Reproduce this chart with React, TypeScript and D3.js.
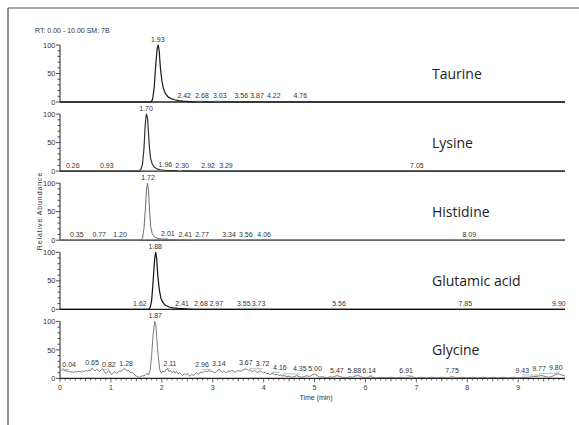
import React from "react";
import * as d3 from "d3";

// compound names, one per stacked panel
const compounds = ["Taurine", "Lysine", "Histidine", "Glutamic acid", "Glycine"];
const timeTicks = [0, 1, 2, 3, 4, 5, 6, 7, 8, 9];
const abundanceTicks = [0, 50, 100];

// chromatogram traces: [time (min), relative abundance]
const taurineTrace: [number, number][] = [
  [0, 0], [1.79, 0], [1.82, 5], [1.85, 25], [1.88, 65], [1.91, 95], [1.93, 100], [1.95, 88],
  [1.97, 62], [2.0, 38], [2.03, 24], [2.07, 15], [2.12, 9], [2.18, 6], [2.25, 4], [2.33, 2.5],
  [2.42, 1.5], [2.55, 0.8], [2.7, 0], [9.92, 0],
];
const lysineTrace: [number, number][] = [
  [0, 0], [1.55, 0], [1.59, 3], [1.62, 12], [1.65, 40], [1.67, 75], [1.69, 97], [1.7, 100],
  [1.72, 92], [1.74, 65], [1.76, 38], [1.78, 22], [1.81, 13], [1.85, 7], [1.9, 4], [1.96, 2.5],
  [2.05, 1.5], [2.2, 1], [2.4, 0.5], [2.6, 0], [9.92, 0],
];
const histidineTrace: [number, number][] = [
  [0, 0], [1.58, 0], [1.62, 4], [1.65, 20], [1.68, 60], [1.7, 90], [1.72, 100], [1.74, 85],
  [1.76, 50], [1.78, 25], [1.81, 12], [1.85, 6], [1.9, 3.5], [2.0, 2], [2.15, 1], [2.4, 0.5],
  [2.6, 0], [9.92, 0],
];
const glutamicTrace: [number, number][] = [
  [0, 0], [1.74, 0], [1.77, 3], [1.8, 15], [1.83, 50], [1.86, 90], [1.88, 100], [1.9, 88],
  [1.92, 60], [1.95, 35], [1.98, 20], [2.02, 12], [2.07, 7], [2.14, 4], [2.22, 2.5], [2.32, 1.5],
  [2.45, 0.8], [2.6, 0], [9.92, 0],
];
const glycineTrace: [number, number][] = [
  [0.0, 16], [0.03, 14], [0.06, 17], [0.09, 13], [0.12, 14], [0.15, 12], [0.18, 13], [0.21, 11],
  [0.24, 12], [0.27, 10], [0.3, 12], [0.33, 11], [0.36, 13], [0.39, 12], [0.42, 11], [0.45, 13],
  [0.48, 12], [0.51, 14], [0.54, 13], [0.57, 15], [0.6, 14], [0.63, 18], [0.66, 15], [0.69, 13],
  [0.72, 16], [0.75, 14], [0.78, 12], [0.81, 15], [0.84, 17], [0.87, 12], [0.9, 8], [0.93, 11],
  [0.96, 14], [0.99, 9], [1.02, 7], [1.05, 10], [1.08, 12], [1.11, 9], [1.14, 11], [1.17, 13],
  [1.2, 12], [1.23, 15], [1.26, 17], [1.29, 16], [1.32, 13], [1.35, 14], [1.38, 10], [1.41, 11],
  [1.44, 9], [1.47, 6], [1.5, 4], [1.53, 3], [1.56, 2], [1.59, 3], [1.62, 5], [1.65, 4],
  [1.68, 7], [1.71, 9], [1.74, 6], [1.77, 14], [1.8, 40], [1.83, 78], [1.86, 100], [1.88, 96],
  [1.9, 70], [1.93, 38], [1.96, 15], [1.99, 9], [2.02, 13], [2.05, 11], [2.08, 15], [2.11, 17],
  [2.14, 12], [2.17, 14], [2.2, 10], [2.23, 13], [2.26, 9], [2.29, 12], [2.32, 8], [2.35, 10],
  [2.38, 7], [2.41, 5], [2.44, 8], [2.47, 6], [2.5, 9], [2.53, 5], [2.56, 4], [2.59, 7],
  [2.62, 5], [2.65, 8], [2.68, 10], [2.71, 7], [2.74, 9], [2.77, 11], [2.8, 10], [2.83, 12],
  [2.86, 13], [2.89, 11], [2.92, 14], [2.95, 12], [2.98, 13], [3.01, 11], [3.04, 10], [3.07, 12],
  [3.1, 14], [3.13, 16], [3.16, 12], [3.19, 11], [3.22, 13], [3.25, 10], [3.28, 11], [3.31, 13],
  [3.34, 12], [3.37, 14], [3.4, 13], [3.43, 11], [3.46, 12], [3.49, 14], [3.52, 13], [3.55, 12],
  [3.58, 14], [3.61, 15], [3.64, 17], [3.67, 16], [3.7, 14], [3.73, 15], [3.76, 13], [3.79, 12],
  [3.82, 14], [3.85, 12], [3.88, 10], [3.91, 12], [3.94, 13], [3.97, 11], [4.0, 9], [4.03, 11],
  [4.06, 8], [4.09, 9], [4.12, 7], [4.15, 8], [4.18, 9], [4.21, 7], [4.24, 6], [4.27, 8],
  [4.3, 5], [4.33, 6], [4.36, 4], [4.4, 5], [4.45, 3], [4.5, 4], [4.55, 2], [4.6, 3],
  [4.65, 5], [4.7, 3], [4.75, 2], [4.8, 3], [4.85, 5], [4.9, 3], [4.95, 6], [5.0, 8],
  [5.05, 5], [5.1, 2], [5.15, 3], [5.2, 2], [5.25, 1], [5.3, 3], [5.35, 2], [5.4, 4],
  [5.45, 5], [5.5, 3], [5.55, 2], [5.6, 1], [5.65, 2], [5.7, 3], [5.75, 2], [5.8, 4],
  [5.85, 6], [5.9, 3], [5.95, 2], [6.0, 1], [6.1, 3], [6.15, 2], [6.2, 1], [6.3, 2],
  [6.4, 1], [6.5, 2], [6.6, 1], [6.7, 2], [6.8, 1], [6.9, 3], [7.0, 1], [7.1, 2],
  [7.2, 1], [7.3, 2], [7.4, 1], [7.5, 2], [7.6, 1], [7.7, 3], [7.8, 1], [7.9, 2],
  [8.0, 1], [8.1, 2], [8.2, 1], [8.3, 2], [8.4, 1], [8.5, 2], [8.6, 1], [8.7, 2],
  [8.8, 1], [8.9, 2], [9.0, 1], [9.1, 2], [9.2, 2], [9.3, 3], [9.4, 4], [9.45, 5],
  [9.5, 4], [9.55, 3], [9.6, 2], [9.65, 3], [9.7, 5], [9.75, 7], [9.8, 8], [9.85, 6],
  [9.9, 5], [9.92, 4],
];

// peak labels: [retention time text, time where the label sits, abundance under it]
const taurineLabels: [string, number, number][] = [
  ["1.93", 1.92, 100], ["2.42", 2.44, 1], ["2.68", 2.79, 1], ["3.03", 3.14, 1], ["3.56", 3.56, 1],
  ["3.87", 3.87, 1], ["4.22", 4.2, 1], ["4.76", 4.72, 1],
];
const lysineLabels: [string, number, number][] = [
  ["0.26", 0.25, 0], ["0.93", 0.92, 0], ["1.70", 1.69, 100], ["1.96", 2.07, 1.5], ["2.30", 2.4, 0.5],
  ["2.92", 2.91, 0], ["3.29", 3.26, 0], ["7.05", 7.01, 0],
];
const histidineLabels: [string, number, number][] = [
  ["0.35", 0.33, 0.5], ["0.77", 0.77, 0.5], ["1.20", 1.18, 0.5], ["1.72", 1.73, 100], ["2.01", 2.12, 2],
  ["2.41", 2.46, 0.5], ["2.77", 2.79, 0.5], ["3.34", 3.32, 0.5], ["3.56", 3.65, 0.5], ["4.06", 4.01, 0.5],
  ["8.09", 8.04, 0.5],
];
const glutamicLabels: [string, number, number][] = [
  ["1.62", 1.57, 1], ["1.88", 1.87, 100], ["2.41", 2.4, 1], ["2.68", 2.77, 1], ["2.97", 3.07, 1],
  ["3.55", 3.61, 1], ["3.73", 3.9, 1], ["5.56", 5.48, 1], ["7.85", 7.96, 1], ["9.90", 9.8, 1],
];
const glycineLabels: [string, number, number][] = [
  ["0.04", 0.18, 15], ["0.65", 0.63, 18], ["0.82", 0.96, 15], ["1.28", 1.3, 17], ["1.87", 1.87, 100],
  ["2.11", 2.16, 16], ["2.96", 2.79, 15], ["3.14", 3.12, 17], ["3.67", 3.65, 19], ["3.72", 3.98, 16],
  ["4.16", 4.32, 10], ["4.35", 4.71, 7], ["5.00", 5.01, 7], ["5.47", 5.44, 4], ["5.88", 5.78, 4],
  ["6.14", 6.07, 4], ["6.91", 6.8, 4], ["7.75", 7.7, 4], ["9.43", 9.08, 5], ["9.77", 9.41, 8],
  ["9.80", 9.74, 10],
];

const traces = [taurineTrace, lysineTrace, histidineTrace, glutamicTrace, glycineTrace];
const labels = [taurineLabels, lysineLabels, histidineLabels, glutamicLabels, glycineLabels];
const traceColors = ["#1a1a1a", "#333", "#6e6e6e", "#111", "#7a7a7a"];

const W = 579;
const H = 425;
const smallFont = "'Liberation Sans Narrow', 'Arial Narrow', 'Liberation Sans', Arial, sans-serif";

export default function App() {
  const x = d3.scaleLinear().domain([0, 9.92]).range([60, 565]);
  const panelH = 57;
  const baseY = (i: number) => 102 + i * 69.1;

  return (
    <svg
      width={W}
      height={H}
      style={{ position: "absolute", left: 0, top: 0, background: "#fff" }}
    >
      {/* frame */}
      <line x1={8} x2={W} y1={8} y2={8} stroke="#8a8a8a" strokeWidth={1.6} />
      <line x1={8} x2={8} y1={8} y2={H} stroke="#444" strokeWidth={1.2} />

      <text x={35} y={32.5} fontFamily={smallFont} fontSize={7} fill="#333">
        RT: 0.00 - 10.00   SM: 7B
      </text>

      <text
        transform="translate(42,211) rotate(-90)"
        textAnchor="middle"
        fontFamily={smallFont}
        fontSize={7}
        letterSpacing={0.9}
        fill="#333"
      >
        Relative Abundance
      </text>

      {compounds.map((name, i) => {
        const y0 = baseY(i);
        const y = d3.scaleLinear().domain([0, 100]).range([y0, y0 - panelH]);
        const line = d3
          .line<[number, number]>()
          .x((d) => x(d[0]))
          .y((d) => y(d[1]));
        const isLast = i === compounds.length - 1;
        return (
          <g key={name}>
            {/* y axis */}
            <line x1={60} x2={60} y1={y(0)} y2={y(100)} stroke="#222" strokeWidth={1} />
            {y.ticks(10).map((t) => (
              <line
                key={t}
                x1={t % 50 === 0 ? 56 : 57.5}
                x2={60}
                y1={y(t)}
                y2={y(t)}
                stroke="#222"
                strokeWidth={0.8}
              />
            ))}
            {abundanceTicks.map((t) => (
              <text
                key={t}
                x={55.5}
                y={y(t) + 2.6}
                textAnchor="end"
                fontFamily={smallFont}
                fontSize={7.5}
                fill="#333"
              >
                {t}
              </text>
            ))}
            {/* x axis line */}
            <line x1={60} x2={565} y1={y0} y2={y0} stroke="#222" strokeWidth={1.3} />

            {/* trace */}
            <path
              d={line(traces[i]) ?? ""}
              fill="none"
              stroke={traceColors[i]}
              strokeWidth={i === 2 || i === 4 ? 1 : 1.2}
              strokeLinejoin="round"
            />

            {/* peak labels */}
            {labels[i].map(([txt, at, lev]) => {
              const rt = +txt;
              const lx = x(at);
              const ly = y(lev);
              return (
                <g key={txt + at}>
                  {Math.abs(at - rt) > 0.05 && lev < 100 && (
                    <line
                      x1={x(rt)}
                      x2={lx}
                      y1={ly - 0.5}
                      y2={ly - 0.5}
                      stroke="#aaa"
                      strokeWidth={0.8}
                    />
                  )}
                  <text
                    x={lx}
                    y={ly - 3}
                    textAnchor="middle"
                    fontFamily={smallFont}
                    fontSize={7}
                    fill="#333"
                  >
                    {txt}
                  </text>
                </g>
              );
            })}

            <text
              x={432}
              y={y(50) + 5}
              fontFamily="'Open Sans', 'Noto Sans', sans-serif"
              fontSize={14}
              fill="#222"
            >
              {name}
            </text>

            {isLast && (
              <g>
                {x.ticks(100).map((t) => {
                  const r = Math.round(t * 10);
                  const len = r % 10 === 0 ? 4 : r % 5 === 0 ? 3 : 2;
                  return (
                    <line
                      key={r}
                      x1={x(t)}
                      x2={x(t)}
                      y1={y0}
                      y2={y0 + len}
                      stroke="#222"
                      strokeWidth={0.7}
                    />
                  );
                })}
                {timeTicks.map((t) => (
                  <text
                    key={t}
                    x={x(t)}
                    y={y0 + 11.5}
                    textAnchor="middle"
                    fontFamily={smallFont}
                    fontSize={7}
                    fill="#333"
                  >
                    {t}
                  </text>
                ))}
                <text
                  x={316}
                  y={y0 + 22}
                  textAnchor="middle"
                  fontFamily={smallFont}
                  fontSize={7}
                  fill="#333"
                >
                  Time (min)
                </text>
              </g>
            )}
          </g>
        );
      })}
    </svg>
  );
}
